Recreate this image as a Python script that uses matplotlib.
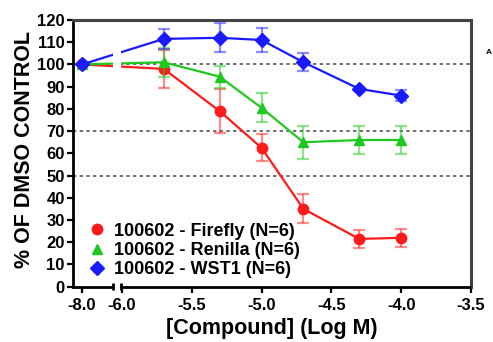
import numpy as np
import matplotlib
matplotlib.use("Agg")
import matplotlib.pyplot as plt
from matplotlib.lines import Line2D
from matplotlib.patches import Rectangle
from matplotlib.transforms import blended_transform_factory

plt.rcParams['font.family'] = ['Liberation Sans', 'DejaVu Sans']
plt.rcParams['font.weight'] = 'bold'

# Concentrations (log M); -8.0 is the vehicle point shown on the broken segment
log_conc = [-8.0, -5.7, -5.3, -5.0, -4.7, -4.3, -4.0]

firefly = [100, 98, 79, 62.5, 35, 21.5, 22]
firefly_err = [0, 8.5, 10, 6, 6.5, 4, 4]

renilla = [100, 101, 94.5, 80.5, 65, 66, 66]
renilla_err = [0, 6.5, 5, 6.5, 7.5, 6.5, 6.5]

wst1 = [100, 111.5, 112, 111, 101, 89, 86]
wst1_err = [0, 4.5, 6.5, 5.5, 4, 1, 2.5]

labels = ["100602 - Firefly (N=6)", "100602 - Renilla (N=6)", "100602 - WST1 (N=6)"]
x_ticks = [-8.0, -6.0, -5.5, -5.0, -4.5, -4.0, -3.5]
x_ticklabels = ["-8.0", "-6.0", "-5.5", "-5.0", "-4.5", "-4.0", "-3.5"]
y_ticks = list(range(0, 121, 10))
ref_levels = [100, 70, 50]

# Broken x scale: everything below -6 is squeezed into a short leading segment
U8 = -6.0 - 40.0 / 140.0
K = 0.1


def fwd(x):
    x = np.asarray(x, dtype=float)
    return np.where(x >= -6.0, x, U8 + (x + 8.0) * K)


def inv(u):
    u = np.asarray(u, dtype=float)
    lo = -8.0 + (u - U8) / K
    return np.where(u >= -6.0, u, np.minimum(lo, -6.0))


fig = plt.figure(figsize=(4.93, 3.42), dpi=100)
ax = fig.add_axes([73 / 493, 1 - 286.7 / 342, 398 / 493, 266.7 / 342])
ax.set_xscale('function', functions=(fwd, inv))
ax.set_xlim(float(inv(-6.35)), -3.507)
ax.set_ylim(0, 120)

series = [
    (firefly, firefly_err, '#ff1a1a', 'o', 7.5),
    (renilla, renilla_err, '#1fc81f', '^', 7.5),
    (wst1, wst1_err, '#1a1aff', 'D', 7.5),
]
handles = []
for i, (vals, err, col, mk, ms) in enumerate(series):
    ax.errorbar(log_conc, vals, yerr=err, fmt='none', ecolor=col, alpha=0.5,
                elinewidth=1.6, capsize=4.5, capthick=1.6, zorder=3 + i)
    ax.plot(log_conc, vals, color=col, lw=1.6, marker=mk, ms=ms,
            markeredgecolor=col, zorder=3 + i)
    handles.append(Line2D([], [], color=col, marker=mk, ls='none', ms=ms))

# gap in the connecting lines at the axis break
blend = blended_transform_factory(ax.transAxes, ax.transData)
ax.add_patch(Rectangle((40 / 398, 92), 8 / 398, 23, transform=blend,
                       facecolor='white', edgecolor='none', zorder=7))

for lvl in ref_levels:
    ax.axhline(lvl, color='#555555', lw=1.2, ls=(0, (2, 2)), zorder=2)

# frame
for side in ['top', 'right']:
    ax.spines[side].set_color('#444444')
    ax.spines[side].set_linewidth(2.2)
ax.spines['left'].set_linewidth(2.0)
ax.spines['bottom'].set_visible(False)

# broken bottom axis
brk_l, brk_r = 40 / 398, 48 / 398
kw = dict(transform=ax.transAxes, color='black', lw=2.0, clip_on=False,
          zorder=10, solid_capstyle='butt')
ax.plot([0, brk_l], [0, 0], **kw)
ax.plot([brk_r, 1.0], [0, 0], **kw)
for bx in (brk_l, brk_r):
    ax.plot([bx, bx], [-0.013, 0.013], **kw)

ax.set_xticks(x_ticks)
ax.set_xticklabels(x_ticklabels)
ax.set_yticks(y_ticks)
ax.xaxis.set_minor_locator(matplotlib.ticker.NullLocator())
ax.tick_params(axis='both', direction='out', length=4, width=1.6,
               labelsize=12, pad=2)
ax.tick_params(axis='x', pad=4)
for t in ax.get_xticklabels() + ax.get_yticklabels():
    t.set_fontweight('bold')

ax.set_ylabel("% OF DMSO CONTROL", fontsize=15.5, fontweight='bold')
ax.yaxis.set_label_coords(-0.095, 0.515)
ax.set_xlabel("[Compound] (Log M)", fontsize=15.5, fontweight='bold', labelpad=4)

leg = ax.legend(handles, labels, loc='lower left', bbox_to_anchor=(0.005, -0.015),
                frameon=False, fontsize=13, handlelength=1.0, handletextpad=0.45,
                labelspacing=0.12, borderaxespad=0.3)
leg.set_zorder(12)
for t in leg.get_texts():
    t.set_fontweight('bold')

fig.text(492 / 493, 1 - 53 / 342, "A", fontsize=6, fontweight='bold',
         ha='right', va='center')

fig.savefig("out.png", dpi=100)
